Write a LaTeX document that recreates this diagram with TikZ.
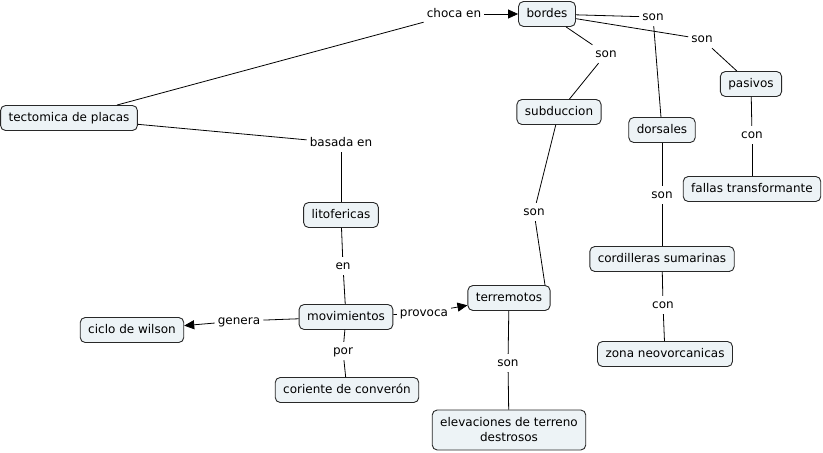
\documentclass[tikz,border=0pt]{standalone}
\usepackage{fontspec}
\setmainfont{DejaVu Sans}
\usetikzlibrary{arrows.meta,calc}
\definecolor{cfill}{RGB}{237,243,246}
\definecolor{cline}{RGB}{40,40,40}
\tikzset{
  conceptbase/.style={draw=cline, fill=cfill, rounded corners=5pt, line width=0.9pt,
    inner xsep=8pt, font=\fontsize{12}{15}\selectfont},
  concept/.style={conceptbase, inner ysep=6.5pt, text height=9pt, text depth=3pt},
  concepttwo/.style={conceptbase, align=center, inner ysep=5pt, minimum height=40pt},
  linkph/.style={fill=white, inner xsep=3pt, inner ysep=3pt, text height=9pt, text depth=3pt,
    font=\fontsize{12}{15}\selectfont},
  conn/.style={draw=black, line width=0.8pt},
  arr/.style={conn, -{Triangle[length=10pt,width=9pt]}}
}
\begin{document}
\begin{tikzpicture}[x=1pt,y=-1pt]
\useasboundingbox (0,0) rectangle (823,453);
% concepts
\node[concept] (tect) at (69,118) {tectomica de placas};
\node[concept] (bordes) at (547,14) {bordes};
\node[concept] (subd) at (559,112) {subduccion};
\node[concept] (dors) at (662,130) {dorsales};
\node[concept] (pasiv) at (751,84) {pasivos};
\node[concept] (fallas) at (752,189) {fallas transformante};
\node[concept] (cord) at (662,259) {cordilleras sumarinas};
\node[concept] (zona) at (665,354) {zona neovorcanicas};
\node[concept] (lito) at (341,215) {litofericas};
\node[concept] (movi) at (346,317) {movimientos};
\node[concept] (terre) at (509,298) {terremotos};
\node[concept] (corr) at (347,390) {coriente de converón};
\node[concepttwo] (elev) at (509,430) {elevaciones de terreno\\destrosos};
\node[concept] (ciclo) at (132,330) {ciclo de wilson};
% linking phrases
\node[linkph] (lchoca) at (454,14) {choca en};
\node[linkph] (lson1) at (653,17) {son};
\node[linkph] (lson2) at (702,39) {son};
\node[linkph] (lson3) at (606,54) {son};
\node[linkph] (lcon1) at (752,135) {con};
\node[linkph] (lbasada) at (341,143) {basada en};
\node[linkph] (len) at (343,266) {en};
\node[linkph] (lson4) at (534,212) {son};
\node[linkph] (lson5) at (662,195) {son};
\node[linkph] (lcon2) at (663,305) {con};
\node[linkph] (lgenera) at (239,321) {genera};
\node[linkph] (lprovoca) at (424,313) {provoca};
\node[linkph] (lpor) at (343,351) {por};
\node[linkph] (lson6) at (508,363) {son};
% connectors
\draw[conn] (tect) -- (lchoca);
\draw[arr] (lchoca) -- (bordes);
\draw[conn] (tect) -- (lbasada);
\draw[conn] (lbasada) -- (lito);
\draw[conn] (bordes) -- (lson1);
\draw[conn] (lson1) -- (dors);
\draw[conn] (bordes) -- (lson2);
\draw[conn] (lson2) -- (pasiv);
\draw[conn] (bordes) -- (lson3);
\draw[conn] (lson3) -- (subd);
\draw[conn] (subd) -- (lson4);
\draw[conn] (lson4) -- ($(terre.north)+(36,0)$);
\draw[conn] (pasiv) -- (lcon1);
\draw[conn] (lcon1) -- (fallas);
\draw[conn] (dors) -- (lson5);
\draw[conn] (lson5) -- (cord);
\draw[conn] (cord) -- (lcon2);
\draw[conn] (lcon2) -- (zona);
\draw[conn] (lito) -- (len);
\draw[conn] (len) -- (movi);
\draw[conn] (movi) -- (lgenera);
\draw[arr] (lgenera) -- (ciclo);
\draw[conn] (movi) -- (lprovoca);
\draw[arr] (lprovoca) -- (terre);
\draw[conn] (movi) -- (lpor);
\draw[conn] (lpor) -- (corr);
\draw[conn] (terre) -- (lson6);
\draw[conn] (lson6) -- (elev);
\end{tikzpicture}
\end{document}
